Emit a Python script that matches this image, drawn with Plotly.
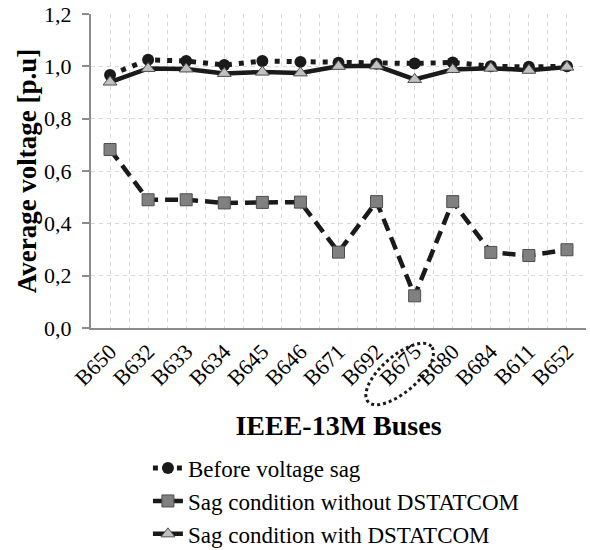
import plotly.graph_objects as go
import numpy as np

buses = ["B650", "B632", "B633", "B634", "B645", "B646", "B671",
         "B692", "B675", "B680", "B684", "B611", "B652"]
before_sag = [0.967, 1.025, 1.020, 1.005, 1.020, 1.017, 1.014,
              1.010, 1.011, 1.015, 1.000, 0.998, 1.000]
sag_without = [0.682, 0.490, 0.490, 0.478, 0.480, 0.481, 0.290,
               0.483, 0.123, 0.483, 0.289, 0.277, 0.299]
sag_with = [0.940, 0.992, 0.990, 0.973, 0.978, 0.975, 1.000,
            1.002, 0.950, 0.988, 0.993, 0.985, 0.997]
y_ticks = [0.0, 0.2, 0.4, 0.6, 0.8, 1.0, 1.2]
y_ticklabels = ["0,0", "0,2", "0,4", "0,6", "0,8", "1,0", "1,2"]

xi = list(range(len(buses)))
FONT = "Liberation Serif"

fig = go.Figure()
fig.add_trace(go.Scatter(
    x=xi, y=before_sag, name="Before voltage sag", mode="lines+markers",
    line=dict(color="#1a1a1a", width=5, dash="5px,7px"),
    marker=dict(symbol="circle", size=12, color="#1a1a1a"),
))
fig.add_trace(go.Scatter(
    x=xi, y=sag_without, name="Sag condition without DSTATCOM", mode="lines+markers",
    line=dict(color="#1a1a1a", width=4.5, dash="13px,7px"),
    marker=dict(symbol="square", size=12, color="#808080",
                line=dict(color="#4d4d4d", width=1)),
))
fig.add_trace(go.Scatter(
    x=xi, y=sag_with, name="Sag condition with DSTATCOM", mode="lines+markers",
    line=dict(color="#1a1a1a", width=4.5),
    marker=dict(symbol="triangle-up", size=12, color="#c0c0c0",
                line=dict(color="#4d4d4d", width=1)),
))

# dotted ellipse highlighting bus B675 label (pixel path relative to its tick)
n_cat = len(buses)
t = np.linspace(0, 2 * np.pi, 60)
a, b, ang = 42, 18, np.deg2rad(41)
cx, cy = -15, -46
px = cx + a * np.cos(t) * np.cos(ang) - b * np.sin(t) * np.sin(ang)
py = cy + a * np.cos(t) * np.sin(ang) + b * np.sin(t) * np.cos(ang)
path = "M " + " L ".join(f"{u:.1f},{v:.1f}" for u, v in zip(px, py)) + " Z"
fig.add_shape(type="path", path=path, xref="paper", yref="paper",
              xsizemode="pixel", ysizemode="pixel",
              xanchor=(buses.index("B675") + 0.5) / n_cat, yanchor=0,
              line=dict(color="#1a1a1a", width=3, dash="dot"))

fig.update_layout(
    width=590, height=550,
    margin=dict(l=91, r=4, t=14, b=222, autoexpand=False),
    paper_bgcolor="white", plot_bgcolor="white",
    font=dict(family=FONT, size=22, color="black"),
    showlegend=True,
    legend=dict(x=0.115, xanchor="left", y=0.188, yanchor="top",
                yref="container",
                font=dict(size=23, family=FONT), tracegroupgap=0,
                bgcolor="rgba(0,0,0,0)"),
)
fig.update_xaxes(
    range=[-0.5, n_cat - 0.5], automargin=False,
    tickmode="array", tickvals=xi, ticktext=buses, tickangle=-45,
    tickfont=dict(size=22, family=FONT),
    showline=True, linecolor="#8c8c8c", linewidth=2,
    showgrid=True, gridcolor="#d9d9d9", griddash="4px,4px", gridwidth=1,
    minor=dict(tick0=-0.5, dtick=1, showgrid=True, gridcolor="#d9d9d9",
               griddash="4px,4px", gridwidth=1, ticks=""),
    ticks="", zeroline=False,
    title=dict(text="<b>IEEE-13M Buses</b>", font=dict(size=28, family=FONT),
               standoff=26),
)
fig.update_yaxes(
    range=[0, 1.2], automargin=False,
    tickmode="array", tickvals=y_ticks, ticktext=y_ticklabels,
    tickfont=dict(size=22, family=FONT),
    showline=True, linecolor="#8c8c8c", linewidth=2,
    ticks="outside", ticklen=7, tickcolor="#8c8c8c", tickwidth=2,
    ticklabelstandoff=6,
    showgrid=True, gridcolor="#d9d9d9", griddash="4px,4px", gridwidth=1,
    zeroline=False,
    title=dict(text="<b>Average voltage [p.u]</b>", font=dict(size=27, family=FONT),
               standoff=0),
)

fig.write_html("out.html")
